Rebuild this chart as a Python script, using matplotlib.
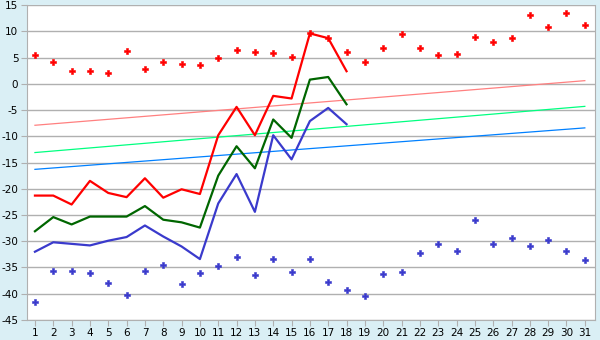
import numpy as np
from matplotlib import pyplot as plt

plt.rcParams['axes.unicode_minus'] = False

# Data
days = list(range(1, 32))
line_days = list(range(1, 19))

red_line = [-21.3, -21.3, -23.0, -18.5, -20.8, -21.6, -18.0, -21.7, -20.1, -21.0,
            -9.8, -4.4, -9.8, -2.3, -2.8, 9.6, 8.7, 2.4]
green_line = [-28.1, -25.4, -26.8, -25.3, -25.3, -25.3, -23.3, -25.9, -26.4, -27.4,
              -17.5, -11.9, -16.1, -6.8, -10.3, 0.8, 1.3, -3.9]
blue_line = [-32.0, -30.2, -30.5, -30.8, -29.9, -29.2, -27.0, -29.1, -31.0, -33.4,
             -22.8, -17.2, -24.4, -9.8, -14.4, -7.1, -4.6, -7.7]

red_points = [5.4, 4.1, 2.5, 2.4, 2.0, 6.2, 2.9, 4.1, 3.7, 3.5,
              5.0, 6.4, 6.0, 5.8, 5.2, 9.7, 8.7, 6.0, 4.1, 6.9,
              9.4, 6.9, 5.4, 5.6, 9.0, 7.9, 8.8, 13.2, 10.8, 13.4, 11.3]
blue_points = [-41.6, -35.7, -35.7, -36.1, -38.0, -40.3, -35.7, -34.6, -38.2, -36.1,
               -34.8, -33.1, -36.5, -33.3, -35.9, -33.3, -37.8, -39.2, -40.5, -36.3,
               -35.9, -32.3, -30.6, -31.9, -26.0, -30.6, -29.3, -31.0, -29.8, -31.9, -33.6]

# Trend lines: value at day 1 and at day 31
trend_days = [1, 31]
trend_red = [-7.9, 0.6]
trend_green = [-13.1, -4.3]
trend_blue = [-16.3, -8.4]

fig = plt.figure(figsize=(6, 3.4), dpi=100, facecolor="#daeff5")
ax = fig.add_axes([0.0445, 0.059, 0.947, 0.926])
ax.set_facecolor("white")

ax.plot(trend_days, trend_red, color="#ff8080", lw=0.9)
ax.plot(trend_days, trend_green, color="#00ff80", lw=0.9)
ax.plot(trend_days, trend_blue, color="#0080ff", lw=0.9)

ax.plot(line_days, red_line, color="#ff0000", lw=1.6)
ax.plot(line_days, green_line, color="#006600", lw=1.6)
ax.plot(line_days, blue_line, color="#3a3acc", lw=1.6)

ax.plot(days, red_points, ls="none", marker="P", ms=4.6, color="#ff0000", mew=0.4)
ax.plot(days, blue_points, ls="none", marker="P", ms=4.6, color="#3a3acc", mew=0.4)

ax.set_xlim(0.55, 31.55)
ax.set_ylim(-45, 15)
ax.set_xticks(days)
ax.set_yticks(range(-45, 16, 5))
ax.yaxis.grid(True, color="#b0b0b0", lw=1)
ax.set_axisbelow(True)
for s in ax.spines.values():
    s.set_color("#b0b0b0")
ax.spines["top"].set_visible(False)
ax.tick_params(colors="#b0b0b0", labelcolor="black", labelsize=7.5, length=4, pad=2)

fig.savefig("out.png", dpi=100, facecolor=fig.get_facecolor())
